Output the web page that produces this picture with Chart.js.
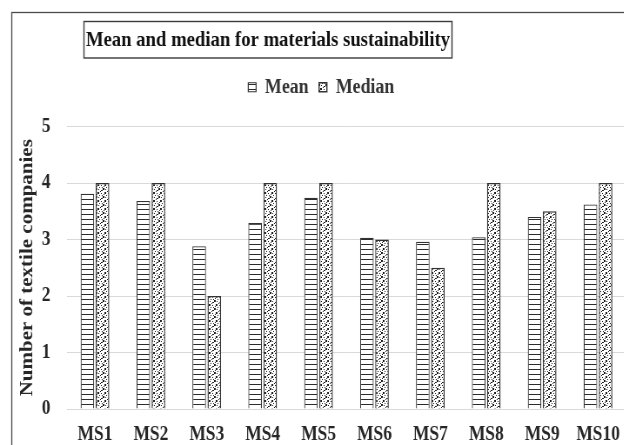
<!DOCTYPE html>
<html>
<head>
<meta charset="utf-8">
<script src="https://cdn.jsdelivr.net/npm/chart.js@4/dist/chart.umd.min.js"></script>
<style>
  html, body { margin: 0; padding: 0; background: #fff; overflow: hidden; }
  #wrap { width: 624px; height: 445px; overflow: hidden; position: relative; background: #fff; }
  /* the chart is laid out wide and drawn narrow, giving condensed serif lettering */
  #c { position: absolute; left: 0; top: 0; transform: scaleX(0.87); transform-origin: 0 0; }
</style>
</head>
<body>
<div id="wrap"><canvas id="c" width="742" height="445"></canvas></div>
<script>
// ---- data ----
const categories   = ['MS1', 'MS2', 'MS3', 'MS4', 'MS5', 'MS6', 'MS7', 'MS8', 'MS9', 'MS10'];
const meanValues   = [3.81, 3.68, 2.88, 3.29, 3.74, 3.03, 2.96, 3.04, 3.40, 3.62];
const medianValues = [4, 4, 2, 4, 4, 3, 2.5, 4, 3.5, 4];
const yTicks       = [0, 1, 2, 3, 4, 5];
const seriesNames  = ['Mean', 'Median'];
const chartTitle   = 'Mean and median for materials sustainability';
const yAxisTitle   = 'Number of textile companies';

const SERIF = "'Liberation Serif', 'Times New Roman', serif";
const INK = '#262626';

// ---- fill patterns ----
function makeTile(w, h, paint) {
  const t = document.createElement('canvas');
  t.width = w; t.height = h;
  const g = t.getContext('2d');
  g.fillStyle = '#fff';
  g.fillRect(0, 0, w, h);
  paint(g);
  return document.getElementById('c').getContext('2d').createPattern(t, 'repeat');
}
// horizontal stripes
const stripePattern = makeTile(6, 5, g => {
  g.fillStyle = '#2b2b2b';
  g.fillRect(0, 4, 6, 1);
});
// speckled dots
const dotPattern = makeTile(8, 8, g => {
  g.fillStyle = '#1e1e1e';
  [[0,0,2,2],[4,1,1,1],[2,3,1,1],[6,4,2,2],[1,5,1,1],[4,6,2,1],[3,7,1,1],[7,2,1,1],[5,3,1,1]]
    .forEach(([x, y, w, h]) => g.fillRect(x, y, w, h));
});

// ---- extra room between legend and plot ----
const legendGap = {
  id: 'legendGap',
  afterInit(chart) {
    const lg = chart.legend;
    if (!lg) return;
    const fit = lg.fit.bind(lg);
    lg.fit = function () { fit(); this.height += 19; };
  }
};

// ---- outer frame and boxed heading ----
const frameAndHeading = {
  id: 'frameAndHeading',
  afterDraw(chart) {
    const ctx = chart.ctx;
    ctx.save();
    ctx.strokeStyle = '#4a4a4a';
    ctx.lineWidth = 1.3;
    ctx.strokeRect(13.5, 12.5, 900, 600);

    ctx.lineWidth = 1.4;
    ctx.strokeStyle = '#3a3a3a';
    ctx.strokeRect(96.5, 21.5, 423, 36.5);

    ctx.fillStyle = '#111';
    ctx.font = `bold 21.5px ${SERIF}`;
    ctx.textAlign = 'center';
    ctx.textBaseline = 'middle';
    ctx.fillText(chartTitle, 308, 40.5);
    ctx.restore();
  }
};

new Chart(document.getElementById('c'), {
  type: 'bar',
  data: {
    labels: categories,
    datasets: [
      {
        label: seriesNames[0],
        data: meanValues,
        backgroundColor: stripePattern,
        borderColor: '#333',
        borderWidth: 1.2
      },
      {
        label: seriesNames[1],
        data: medianValues,
        backgroundColor: dotPattern,
        borderColor: '#333',
        borderWidth: 1.4
      }
    ]
  },
  options: {
    responsive: false,
    animation: false,
    devicePixelRatio: 1,
    layout: { padding: { left: 19, right: 22.5, top: 65, bottom: 0 } },
    datasets: { bar: { categoryPercentage: 0.54, barPercentage: 0.9 } },
    plugins: {
      title: { display: false },
      tooltip: { enabled: false },
      legend: {
        position: 'top',
        labels: {
          boxWidth: 9,
          boxHeight: 9,
          padding: 12,
          color: '#333',
          font: { family: SERIF, weight: 'bold', size: 20.5 }
        }
      }
    },
    scales: {
      x: {
        afterFit: s => { s.height = 36; },
        grid: { display: false },
        border: { display: false },
        ticks: { color: INK, padding: 6, maxRotation: 0, autoSkip: false,
                 font: { family: SERIF, weight: 'bold', size: 20 } }
      },
      y: {
        min: yTicks[0],
        max: yTicks[yTicks.length - 1],
        afterBuildTicks: s => { s.ticks = yTicks.map(v => ({ value: v })); },
        afterFit: s => { s.width = 58; },
        grid: { color: '#d9d9d9', lineWidth: 1, drawTicks: false },
        border: { display: false },
        ticks: { color: INK, padding: 19, font: { family: SERIF, weight: 'bold', size: 20 } },
        title: {
          display: true,
          text: yAxisTitle,
          color: INK,
          padding: 0,
          font: { family: SERIF, weight: 'bold', size: 21 }
        }
      }
    }
  },
  plugins: [legendGap, frameAndHeading]
});
</script>
</body>
</html>
